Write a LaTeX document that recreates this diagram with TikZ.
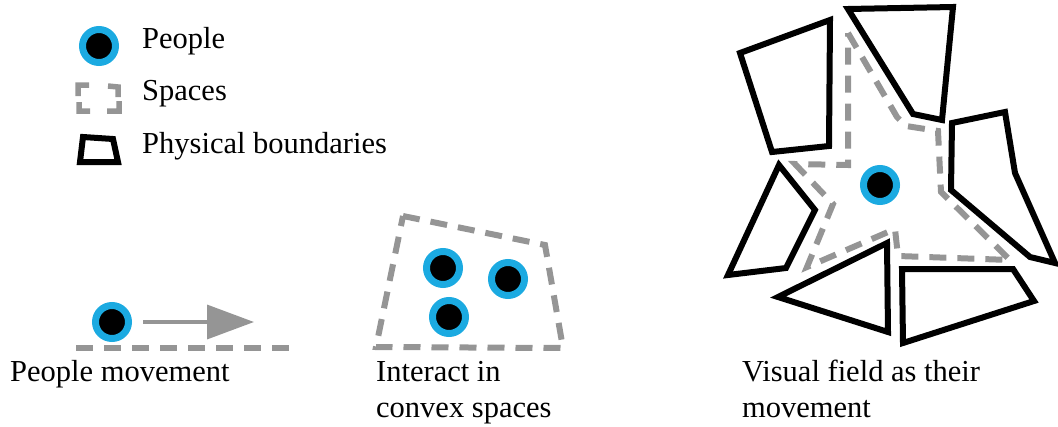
\documentclass[tikz,border=0pt]{standalone}
\usepackage{fontspec}
\setmainfont{Liberation Serif}
\usetikzlibrary{arrows.meta}
\definecolor{pcyan}{HTML}{1BAAE1}
\definecolor{sgray}{HTML}{959595}
\tikzset{
  person/.style={circle, fill=black, draw=pcyan, line width=7pt, minimum size=33pt, inner sep=0pt},
  label/.style={anchor=base west, inner sep=0pt, font=\fontsize{30.5}{36}\selectfont},
  space/.style={draw=sgray, line width=6pt, dash pattern=on 17pt off 11pt, line join=miter},
  wall/.style={draw=black, line width=6pt, line join=miter},
  move/.style={draw=sgray, line width=3.5pt, -{Triangle[length=47pt,width=34pt]}}
}
\begin{document}
\begin{tikzpicture}[x=1pt,y=-1pt]
\useasboundingbox (0,0) rectangle (1058,426);
% legend
\node[person] (lp) at (99,46) {};
\node[label] (lpt) at (142,48) {People};
\draw[sgray, line width=5.5pt, line join=miter]
  (78,96) -- (78,85) -- (89,85)
  (108,86) -- (118,87) -- (118,97)
  (79,102) -- (79,111) -- (90,111)
  (107,111) -- (119,111) -- (119,101);
\node[label] (lst) at (142,100) {Spaces};
\draw[wall] (83,137) -- (113,139) -- (118,162) -- (80,162) -- cycle;
\node[label] (lbt) at (142,153) {Physical boundaries};
% people movement
\node[person] (p1) at (112,322) {};
\coordinate (mvend) at (254,322);
\draw[move, shorten <=11pt] (p1.east) -- (mvend);
\coordinate (fl1) at (76,348);
\coordinate (fl2) at (294,348);
\draw[space] (fl1) -- (fl2);
\node[label] (pmt) at (10,381) {People movement};
% convex space
\draw[space] (403,216) -- (545,245) -- (563,348) -- (376,347) -- cycle;
\node[person] (c1) at (443,268) {};
\node[person] (c2) at (508,279) {};
\node[person] (c3) at (449,317) {};
\node[label] (ct1) at (376,381) {Interact in};
\node[label] (ct2) at (376,417) {convex spaces};
% visual field
\draw[space] (848,33) -- (897,117) -- (906,126) -- (938,131) -- (941,192) -- (1010,260)
  -- (898,256) -- (895,229) -- (807,267) -- (833,204) -- (795,164) -- (848,165) -- cycle;
\draw[wall] (740,53) -- (830,20) -- (829,146) -- (772,152) -- cycle;
\draw[wall] (848,9) -- (953,7) -- (942,120) -- (913,114) -- cycle;
\draw[wall] (952,123) -- (1005,112) -- (1015,173) -- (1055,263) -- (1030,257) -- (951,190) -- cycle;
\draw[wall] (779,165) -- (815,210) -- (786,268) -- (728,275) -- cycle;
\draw[wall] (778,297) -- (887,243) -- (888,332) -- cycle;
\draw[wall] (902,269) -- (1013,269) -- (1034,301) -- (903,343) -- cycle;
\node[person] (vp) at (880,185) {};
\node[label] (vt1) at (742,381) {Visual field as their};
\node[label] (vt2) at (742,417) {movement};
\end{tikzpicture}
\end{document}
